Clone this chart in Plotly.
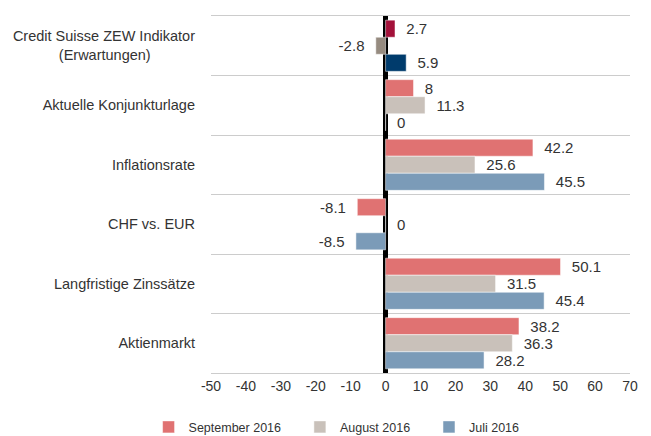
import plotly.graph_objects as go

categories = [
    "Credit Suisse ZEW Indikator<br>(Erwartungen)" + "\u00a0" * 11,
    "Aktuelle Konjunkturlage",
    "Inflationsrate",
    "CHF vs. EUR",
    "Langfristige Zinssätze",
    "Aktienmarkt",
]
series_names = ["September 2016", "August 2016", "Juli 2016"]
sep_values = [2.7, 8, 42.2, -8.1, 50.1, 38.2]
aug_values = [-2.8, 11.3, 25.6, 0, 31.5, 36.3]
jul_values = [5.9, 0, 45.5, -8.5, 45.4, 28.2]
x_ticks = list(range(-50, 71, 10))
x_tick_text = [str(v) for v in x_ticks]

light_colors = ["#E07272", "#C9C1BA", "#7B9BB8"]
dark_colors = ["#A3113A", "#968B80", "#003B6C"]

def label(v):
    s = f"{v:g}"
    pad = "\u00a0\u00a0"
    return s + pad if v < 0 else pad + s

fig = go.Figure()
for i, (name, vals) in enumerate(zip(series_names, [sep_values, aug_values, jul_values])):
    fig.add_trace(go.Bar(
        y=categories[:1], x=vals[:1], orientation="h", name=name,
        marker=dict(color=dark_colors[i], line=dict(color="white", width=0.5)),
        text=[label(v) for v in vals[:1]], textposition="outside",
        textfont=dict(size=15, color="#333333"), cliponaxis=False,
        offsetgroup=str(i), showlegend=False,
    ))
    fig.add_trace(go.Bar(
        y=categories[1:], x=vals[1:], orientation="h", name=name + "\u00a0" * 4,
        marker=dict(color=light_colors[i], line=dict(color="white", width=0.5)),
        text=[label(v) for v in vals[1:]], textposition="outside",
        textfont=dict(size=15, color="#333333"), cliponaxis=False,
        offsetgroup=str(i),
    ))

fig.update_layout(
    width=643, height=428,
    margin=dict(l=203, r=21, t=8, b=63, autoexpand=False),
    paper_bgcolor="white", plot_bgcolor="white",
    font=dict(family="Liberation Sans, Arial, sans-serif", color="#333333"),
    barmode="group", bargap=0.14, bargroupgap=0,
    showlegend=True,
    legend=dict(orientation="h", x=-0.149, xanchor="left", y=-0.11, yanchor="top",
                font=dict(size=12.5), traceorder="normal", itemwidth=30),
    xaxis=dict(range=[-50, 70], tickvals=x_ticks, ticktext=x_tick_text, showgrid=False,
               zeroline=True, zerolinecolor="black", zerolinewidth=5,
               showline=True, linecolor="#cccccc", linewidth=1, mirror=True,
               tickfont=dict(size=14), ticks="", automargin=False),
    yaxis=dict(type="category", categoryorder="array", categoryarray=categories,
               autorange="reversed", tickson="boundaries", showgrid=True,
               gridcolor="#cccccc", gridwidth=1, ticks="", ticklabelstandoff=15,
               tickfont=dict(size=14.5), automargin=False),
)

fig.write_html("out.html")
